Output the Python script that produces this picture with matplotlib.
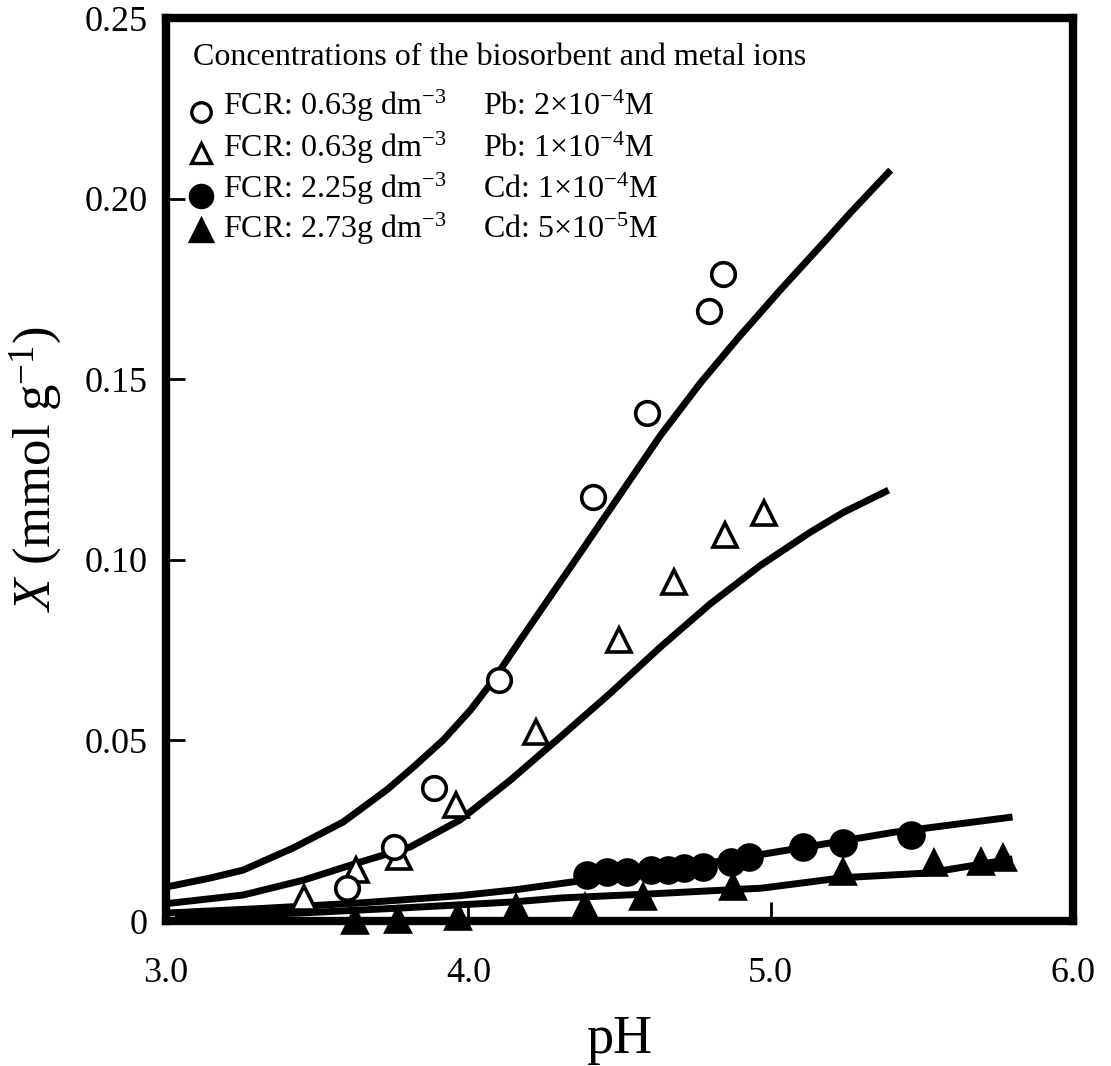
import matplotlib
matplotlib.use("Agg")
import matplotlib.pyplot as plt

plt.rcParams['font.family'] = ['Liberation Serif', 'DejaVu Serif']
plt.rcParams['mathtext.fontset'] = 'custom'
plt.rcParams['mathtext.rm'] = 'Liberation Serif'
plt.rcParams['mathtext.it'] = 'Liberation Serif:italic'

# measured points (pH, X in mmol/g)
pb2_ph = [3.60, 3.755, 3.887, 4.10, 4.414, 4.59, 4.795, 4.844]
pb2_x = [0.0091, 0.0205, 0.0368, 0.0667, 0.1174, 0.1406, 0.169, 0.179]

pb1_ph = [3.457, 3.63, 3.77, 3.96, 4.225, 4.50, 4.68, 4.85, 4.977]
pb1_x = [0.0065, 0.0141, 0.0177, 0.032, 0.0523, 0.0778, 0.0938, 0.107, 0.113]

cd1_ph = [4.394, 4.46, 4.526, 4.603, 4.659, 4.712, 4.775, 4.868, 4.927, 5.106, 5.238, 5.463]
cd1_x = [0.0127, 0.0136, 0.0136, 0.0141, 0.0141, 0.0147, 0.0150, 0.0163, 0.0177, 0.0205, 0.0216, 0.0238]

cd5_ph = [3.626, 3.768, 3.967, 4.159, 4.387, 4.579, 4.874, 5.238, 5.54, 5.695, 5.77]
cd5_x = [0.0, 0.0003, 0.0011, 0.0036, 0.0039, 0.0066, 0.0094, 0.0136, 0.016, 0.0163, 0.0174]

# model curves
fit_pb2_ph = [3.0, 3.146, 3.255, 3.42, 3.586, 3.73, 3.818, 3.917, 4.007, 4.083, 4.172,
              4.361, 4.503, 4.636, 4.768, 4.89, 5.033, 5.175, 5.265, 5.397]
fit_pb2_x = [0.0094, 0.0119, 0.0141, 0.0202, 0.0274, 0.0363, 0.0426, 0.0501, 0.0584, 0.0667, 0.0778,
             0.1008, 0.1182, 0.1345, 0.149, 0.1612, 0.1748, 0.1878, 0.1962, 0.2079]

fit_pb1_ph = [3.0, 3.255, 3.454, 3.642, 3.808, 3.973, 4.139, 4.305, 4.47, 4.636, 4.80,
              4.967, 5.132, 5.242, 5.39]
fit_pb1_x = [0.0048, 0.0072, 0.0113, 0.0163, 0.0205, 0.028, 0.039, 0.051, 0.0631, 0.0759, 0.0878,
             0.0985, 0.1077, 0.1132, 0.1193]

fit_cd1_ph = [3.0, 3.3, 3.64, 3.97, 4.15, 4.36, 4.86, 5.41, 5.80]
fit_cd1_x = [0.0022, 0.0034, 0.005, 0.0070, 0.0086, 0.011, 0.0169, 0.0246, 0.0288]

fit_cd5_ph = [3.03, 3.44, 3.8, 4.15, 4.31, 4.60, 4.97, 5.24, 5.52, 5.80]
fit_cd5_x = [0.0011, 0.0022, 0.0037, 0.0053, 0.0064, 0.0075, 0.0091, 0.012, 0.0133, 0.0172]

xticks = [3.0, 4.0, 5.0, 6.0]
xtick_labels = ['3.0', '4.0', '5.0', '6.0']
yticks = [0, 0.05, 0.10, 0.15, 0.20, 0.25]
ytick_labels = ['0', '0.05', '0.10', '0.15', '0.20', '0.25']

legend_fcr = ['FCR: 0.63g dm$^{-3}$', 'FCR: 0.63g dm$^{-3}$', 'FCR: 2.25g dm$^{-3}$', 'FCR: 2.73g dm$^{-3}$']
legend_metal = [r'Pb: 2$\times$10$^{-4}$M', r'Pb: 1$\times$10$^{-4}$M',
                r'Cd: 1$\times$10$^{-4}$M', r'Cd: 5$\times$10$^{-5}$M']

fig = plt.figure(figsize=(11.11, 10.66), dpi=100)
ax = fig.add_axes([0.1494, 0.136, 0.8164, 0.8471])

lw = 5
for px, py in [(fit_pb2_ph, fit_pb2_x), (fit_pb1_ph, fit_pb1_x),
               (fit_cd1_ph, fit_cd1_x), (fit_cd5_ph, fit_cd5_x)]:
    ax.plot(px, py, color='black', lw=lw, solid_capstyle='butt', solid_joinstyle='round', zorder=2)

mew = 2.6
ax.plot(cd5_ph, cd5_x, '^', ms=17, mfc='black', mec='black', mew=mew, clip_on=False, zorder=3)
ax.plot(cd1_ph, cd1_x, 'o', ms=18, mfc='black', mec='black', mew=mew, clip_on=False, zorder=3)
ax.plot(pb1_ph, pb1_x, '^', ms=17, mfc='white', mec='black', mew=mew, clip_on=False, zorder=4)
ax.plot(pb2_ph, pb2_x, 'o', ms=17, mfc='white', mec='black', mew=mew, clip_on=False, zorder=5)

ax.set_xlim(3.0, 6.0)
ax.set_ylim(0, 0.25)
ax.set_xticks(xticks)
ax.set_xticklabels(xtick_labels)
ax.set_yticks(yticks)
ax.set_yticklabels(ytick_labels)
ax.tick_params(axis='both', direction='in', length=14, width=2, labelsize=26)
ax.tick_params(axis='x', pad=26)
ax.tick_params(axis='y', pad=13)
for s in ax.spines.values():
    s.set_linewidth(6)

ax.set_xlabel('pH', fontsize=39)
ax.xaxis.set_label_coords(0.5, -0.104)
ax.set_ylabel('$X$ (mmol g$^{-1}$)', fontsize=38)
ax.yaxis.set_label_coords(-0.112, 0.5)

# legend drawn as text
fs = 23
ax.text(0.0298, 0.948, 'Concentrations of the biosorbent and metal ions',
        transform=ax.transAxes, fontsize=fs, va='baseline', ha='left')
row_base = [0.8926, 0.846, 0.8007, 0.7564]
row_mark = [0.8959, 0.8505, 0.8029, 0.7652]
styles = [('o', 'white', 14), ('^', 'white', 15), ('o', 'black', 16), ('^', 'black', 16)]
for i in range(4):
    m, fc, sz = styles[i]
    ax.plot([0.0386], [row_mark[i]], m, ms=sz, mfc=fc, mec='black', mew=2.4,
            transform=ax.transAxes, clip_on=False, zorder=6)
    ax.text(0.0628, row_base[i], legend_fcr[i], transform=ax.transAxes,
            fontsize=fs, va='baseline', ha='left')
    ax.text(0.3495, row_base[i], legend_metal[i], transform=ax.transAxes,
            fontsize=fs, va='baseline', ha='left')

fig.savefig('out.png', dpi=100)
